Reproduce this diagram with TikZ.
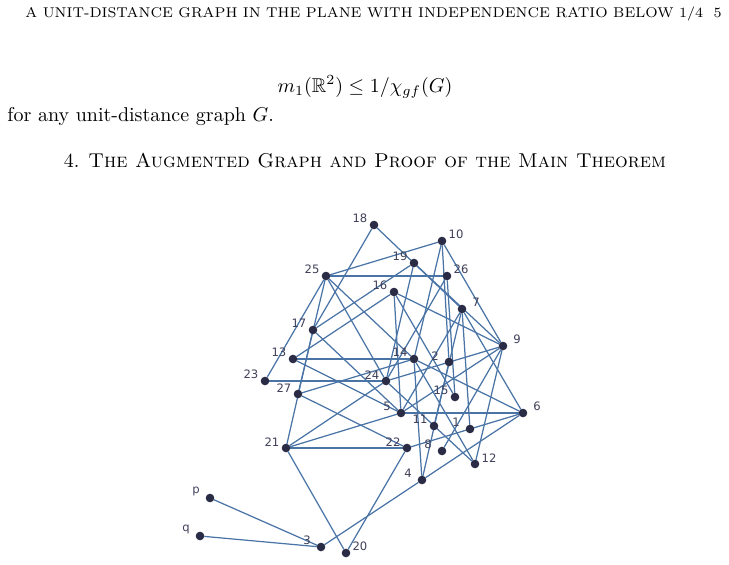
\documentclass[tikz,border=0pt]{standalone}
\usepackage{amsmath,amssymb}
\usepackage{fontspec}
\usepackage{tikz}
\usetikzlibrary{backgrounds}
\newfontfamily\labfont{DejaVu Sans}
\definecolor{dotc}{HTML}{2A2B45}
\definecolor{edgec}{HTML}{4A74A6}
\tikzset{
  vtx/.style={circle,fill=dotc,minimum size=4.3pt,inner sep=0pt,outer sep=0pt},
  lab/.style={font=\labfont\fontsize{5.8}{6}\selectfont,text=dotc!90,inner sep=0pt},
  ll/.style={label={[lab,anchor=center,xshift=-7pt,yshift=1pt]90:#1}},
  lr/.style={label={[lab,anchor=center,xshift=7pt,yshift=1pt]90:#1}},
  edge/.style={draw=edgec,line width=0.62pt}
}

\begin{document}
\begin{tikzpicture}[x=0.5pt,y=-0.5pt]
  \useasboundingbox (0,0) rectangle (729,564);
  % page text
  \node[anchor=base west,inner sep=0pt] (head) at (25,17) {\fontsize{7.08}{8}\selectfont A UNIT-DISTANCE GRAPH IN THE PLANE WITH INDEPENDENCE RATIO BELOW 1/4};
  \node[anchor=base east,inner sep=0pt] (page) at (722,17) {\fontsize{7.08}{8}\selectfont 5};
  \node[anchor=base,inner sep=0pt] (ineq) at (365,92) {$m_1(\mathbb{R}^2)\le 1/\chi_{gf}(G)$};
  \node[anchor=base west,inner sep=0pt] (text) at (7,121) {for any unit-distance graph $G$.};
  \node[anchor=base,inner sep=0pt] (sec) at (365,167) {4. \textsc{The Augmented Graph and Proof of the Main Theorem}};

  % vertices
  \node[vtx,ll=1]  (v1)  at (470,429) {};
  \node[vtx,ll=2]  (v2)  at (449,362) {};
  \node[vtx,ll=3]  (v3)  at (321,547) {};
  \node[vtx,ll=4]  (v4)  at (422,480) {};
  \node[vtx,ll=5]  (v5)  at (401,413) {};
  \node[vtx,lr=6]  (v6)  at (523,413) {};
  \node[vtx,lr=7]  (v7)  at (462,309) {};
  \node[vtx,ll=8]  (v8)  at (442,451) {};
  \node[vtx,lr=9]  (v9)  at (503,346) {};
  \node[vtx,lr=10] (v10) at (442,241) {};
  \node[vtx,ll=11] (v11) at (434,426) {};
  \node[vtx,lr=12] (v12) at (475,464) {};
  \node[vtx,ll=13] (v13) at (293,359) {};
  \node[vtx,ll=14] (v14) at (414,359) {};
  \node[vtx,ll=15] (v15) at (455,397) {};
  \node[vtx,ll=16] (v16) at (394,292) {};
  \node[vtx,ll=17] (v17) at (313,330) {};
  \node[vtx,ll=18] (v18) at (374,225) {};
  \node[vtx,ll=19] (v19) at (414,263) {};
  \node[vtx,lr=20] (v20) at (346,553) {};
  \node[vtx,ll=21] (v21) at (286,448) {};
  \node[vtx,ll=22] (v22) at (407,448) {};
  \node[vtx,ll=23] (v23) at (265,381) {};
  \node[vtx,ll=24] (v24) at (386,381) {};
  \node[vtx,ll=25] (v25) at (326,276) {};
  \node[vtx,lr=26] (v26) at (447,276) {};
  \node[vtx,ll=27] (v27) at (298,394) {};
  \node[vtx,ll=p]  (vp)  at (210,498) {};
  \node[vtx,ll=q]  (vq)  at (200,536) {};

  % unit-distance edges
  \begin{scope}[on background layer]
    \foreach \a/\b in {1/7,2/4,2/10,3/4,3/p,3/q,4/6,4/14,
        5/6,5/7,5/9,5/13,5/16,5/17,5/21,6/7,6/14,6/22,7/11,7/18,
        8/9,9/10,9/12,9/16,9/19,9/24,10/14,10/25,12/14,12/24,
        13/14,13/16,14/25,14/27,15/16,15/26,17/18,17/19,17/21,
        19/24,20/21,20/22,21/22,21/24,22/27,23/24,23/25,
        24/25,24/26,25/26,25/27}
      \draw[edge] (v\a) -- (v\b);
  \end{scope}
\end{tikzpicture}
\end{document}
